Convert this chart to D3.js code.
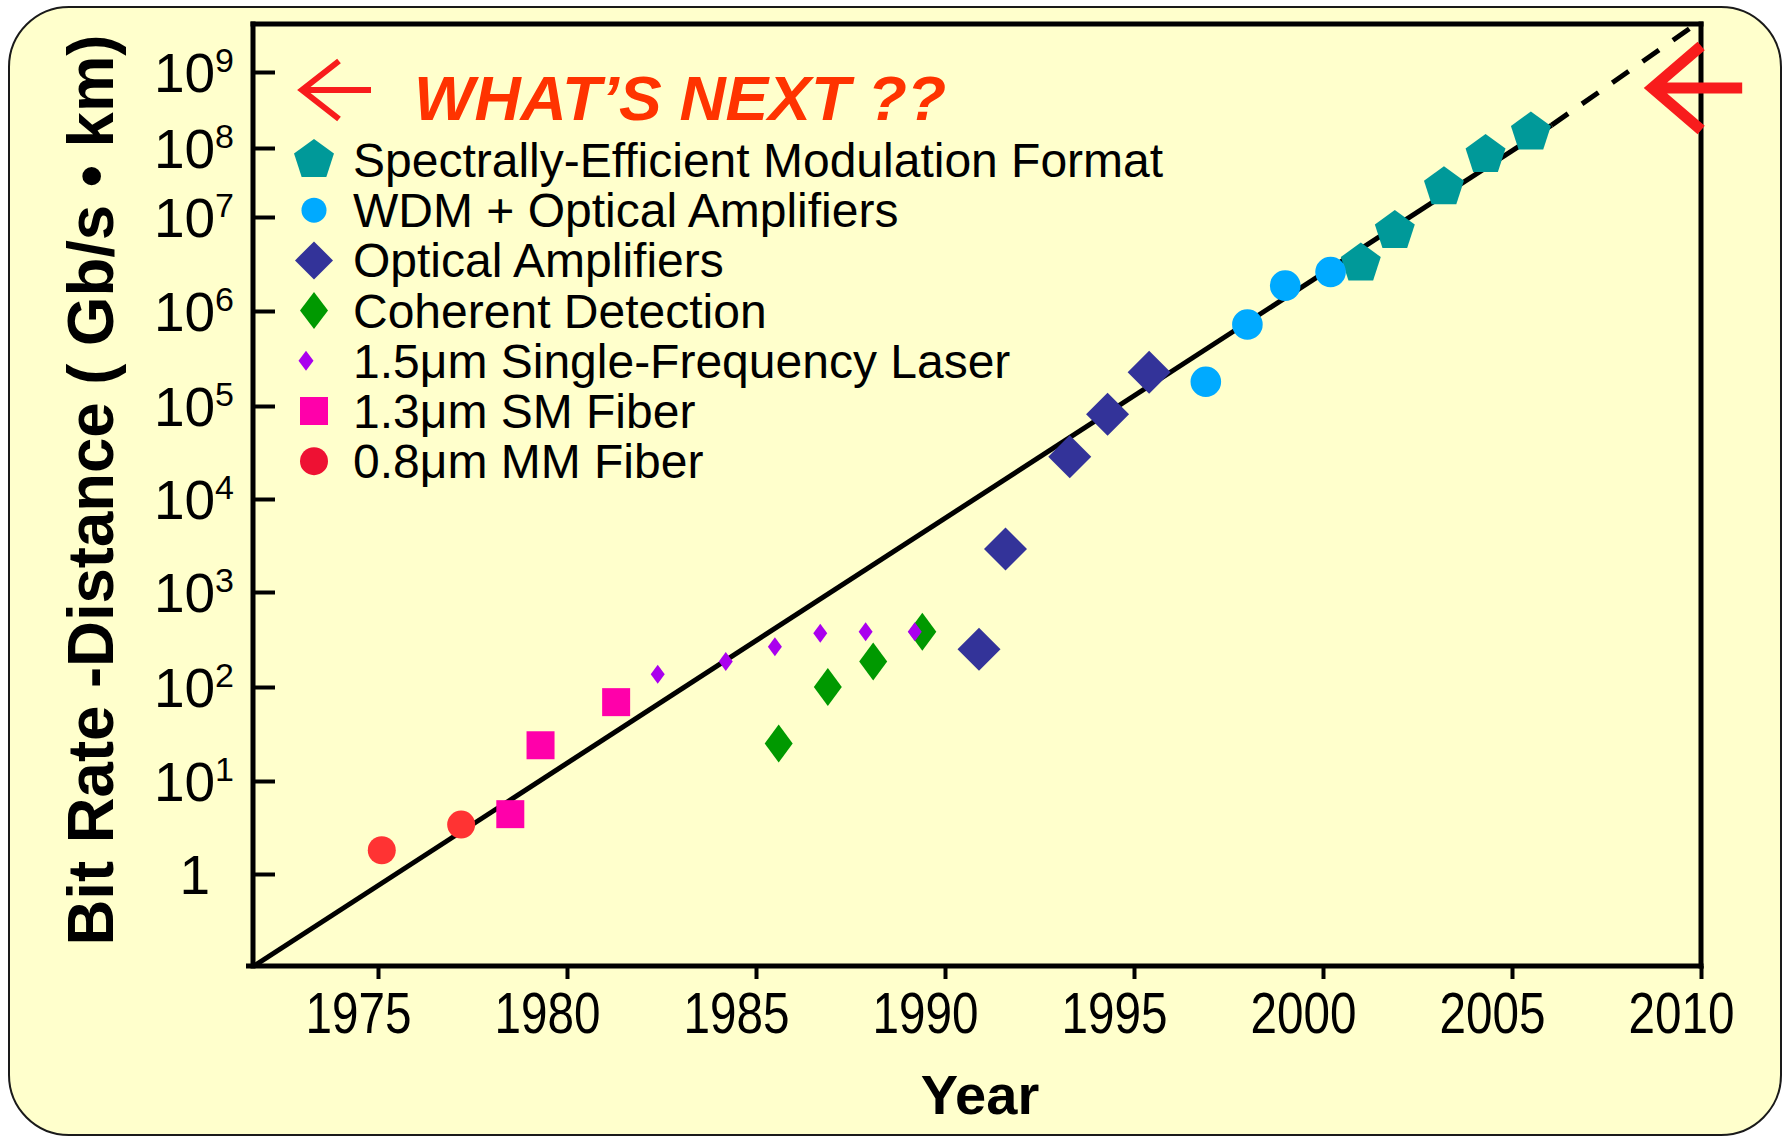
<!DOCTYPE html>
<html>
<head>
<meta charset="utf-8">
<script src="https://cdn.jsdelivr.net/npm/d3@7"></script>
<style>
  body { margin: 0; background: #fff; }
  svg { display: block; }
  text { font-family: "Liberation Sans", Arial, Helvetica, sans-serif; fill: #000; }
</style>
</head>
<body>
<div id="chart"></div>
<script>
// ---- data ----
var xTickYears = [1975, 1980, 1985, 1990, 1995, 2000, 2005, 2010];
var yTickValues = [1, 10, 100, 1e3, 1e4, 1e5, 1e6, 1e7, 1e8, 1e9];

var mmYears = [1975.1, 1977.2];
var mmValues = [1.8, 3.4];
var smYears = [1978.5, 1979.3, 1981.3];
var smValues = [4.4, 24, 69];
var laserYears = [1982.4, 1984.2, 1985.5, 1986.7, 1987.9, 1989.2];
var laserValues = [136, 185, 265, 367, 382, 382];
var cohYears = [1985.6, 1986.9, 1988.1, 1989.4];
var cohValues = [25, 100, 185, 382];
var oaYears = [1990.9, 1991.6, 1993.3, 1994.3, 1995.4];
var oaValues = [250, 2900, 28500, 81500, 226000];
var wdmYears = [1996.9, 1998.0, 1999.0, 2000.2];
var wdmValues = [1.8e5, 7.2e5, 1.86e6, 2.6e6];
var semfYears = [2001.0, 2001.9, 2003.2, 2004.3, 2005.5];
var semfValues = [3.2e6, 7.1e6, 2.7e7, 7.9e7, 1.6e8];

// trend: solid up to the last point, then dashed to the corner
var trendYears = [1971.72, 2006.05, 2009.75];
var trendValues = [0.1, 2.0e8, 3.9e9];

var seriesNames = ["Spectrally-Efficient Modulation Format", "WDM + Optical Amplifiers",
  "Optical Amplifiers", "Coherent Detection", "1.5\u03bcm Single-Frequency Laser",
  "1.3\u03bcm SM Fiber", "0.8\u03bcm MM Fiber"];

// ---- layout ----
var W = 1789, H = 1138;
var plotLeft = 253, plotTop = 24, plotRight = 1701, plotBottom = 966;

var svg = d3.select("#chart").append("svg")
  .attr("width", W).attr("height", H);

svg.append("rect")
  .attr("x", 9).attr("y", 7).attr("width", 1772).attr("height", 1128)
  .attr("rx", 60).attr("ry", 60)
  .attr("fill", "#ffffcc").attr("stroke", "#1a1a1a").attr("stroke-width", 2);

var x = d3.scaleLinear().domain([1975, 2010]).range([378, 1701]);
// log axis, but the top decades on the slide are squeezed, so piecewise
var y = d3.scaleLog()
  .domain([0.1, 1, 10, 100, 1e3, 1e4, 1e5, 1e6, 1e7, 1e8, 1e9, 4.3e9])
  .range([966, 874, 781, 687, 592, 499, 406, 311, 217, 148, 72, 24]);

// series table built from the arrays
var series = [
  {years: semfYears, values: semfValues, shape: "pentagon", a: 21, b: 21, la: 21, lb: 21, color: "#009999"},
  {years: wdmYears, values: wdmValues, shape: "circle", a: 15.3, b: 15.3, la: 12.5, lb: 12.5, color: "#00aaff"},
  {years: oaYears, values: oaValues, shape: "diamond", a: 21.5, b: 21.5, la: 19, lb: 19, color: "#333399"},
  {years: cohYears, values: cohValues, shape: "diamond", a: 14, b: 19, la: 14, lb: 18.5, color: "#009900"},
  {years: laserYears, values: laserValues, shape: "diamond", a: 7, b: 9.5, la: 7.5, lb: 10, color: "#aa00ee", lx: -8},
  {years: smYears, values: smValues, shape: "square", a: 14, b: 14, la: 14, lb: 14, color: "#ff00aa"},
  {years: mmYears, values: mmValues, shape: "circle", a: 14, b: 14, la: 14, lb: 14, color: "#ff3333", legendColor: "#ee1133"}
];
series.forEach(function(s, i) { s.name = seriesNames[i]; });

function shapePath(shape, cx, cy, a, b) {
  var p = d3.path();
  if (shape == "circle") {
    p.moveTo(cx + a, cy);
    p.arc(cx, cy, a, 0, 2 * Math.PI);
  } else if (shape == "square") {
    p.rect(cx - a, cy - b, 2 * a, 2 * b);
  } else if (shape == "diamond") {
    p.moveTo(cx, cy - b); p.lineTo(cx + a, cy); p.lineTo(cx, cy + b); p.lineTo(cx - a, cy);
  } else if (shape == "pentagon") {
    for (var k = 0; k < 5; k++) {
      var ang = (-90 + 72 * k) * Math.PI / 180;
      if (k == 0) p.moveTo(cx + a * Math.cos(ang), cy + a * Math.sin(ang));
      else p.lineTo(cx + a * Math.cos(ang), cy + a * Math.sin(ang));
    }
  }
  p.closePath();
  return p.toString();
}

// ---- axes ----
var xAxis = d3.axisBottom(x).tickValues(xTickYears).tickSize(13).tickFormat(d3.format("d"));
var gx = svg.append("g").attr("transform", "translate(0," + plotBottom + ")").call(xAxis);
gx.select(".domain").remove();
gx.selectAll(".tick line").attr("stroke", "#000").attr("stroke-width", 4);
gx.selectAll(".tick text")
  .attr("y", 67).attr("dy", 0).attr("dx", -20)
  .attr("textLength", 106).attr("lengthAdjust", "spacingAndGlyphs")
  .style("font-size", "57px").attr("fill", "#000");

var yAxis = d3.axisRight(y).tickValues(yTickValues).tickSize(22).tickFormat("");
var gy = svg.append("g").attr("transform", "translate(" + plotLeft + ",0)").call(yAxis);
gy.select(".domain").remove();
gy.selectAll(".tick line").attr("stroke", "#000").attr("stroke-width", 4);

// y tick labels: 1, 10^1 ... 10^9
var ylab = svg.append("g").selectAll("text")
  .data(yTickValues)
  .enter()
  .append("text")
  .attr("x", function(d) { return d == 1 ? 210 : 234; })
  .attr("y", function(d) { return y(d) + 20; })
  .attr("text-anchor", "end")
  .style("font-size", "55px");
ylab.each(function(d) {
  var t = d3.select(this);
  var p = Math.round(Math.log10(d));
  if (p == 0) { t.text("1"); return; }
  t.append("tspan").text("10");
  t.append("tspan").attr("dy", -20).style("font-size", "34px").text(p);
});

// plot frame
var frame = svg.append("g").attr("stroke", "#000").attr("stroke-width", 5).attr("fill", "none");
frame.append("line").attr("x1", plotLeft).attr("x2", plotLeft).attr("y1", plotTop - 2.5).attr("y2", plotBottom + 2.5);
frame.append("line").attr("x1", plotLeft - 2.5).attr("x2", plotRight + 2.5).attr("y1", plotTop).attr("y2", plotTop);
frame.append("line").attr("x1", plotRight).attr("x2", plotRight).attr("y1", plotTop - 2.5).attr("y2", plotBottom + 2.5);
frame.append("line").attr("x1", plotLeft - 7).attr("x2", plotRight + 2.5).attr("y1", plotBottom).attr("y2", plotBottom);

// axis titles
svg.append("text")
  .attr("transform", "translate(113,490) rotate(-90)")
  .attr("text-anchor", "middle")
  .attr("textLength", 911).attr("lengthAdjust", "spacingAndGlyphs")
  .style("font-size", "65px").style("font-weight", "bold")
  .text("Bit Rate -Distance ( Gb/s \u2022 km)");

svg.append("text")
  .attr("x", 980).attr("y", 1114)
  .attr("text-anchor", "middle")
  .style("font-size", "56px").style("font-weight", "bold")
  .text("Year");

// ---- trend line ----
var trend = trendYears.map(function(d, i) { return {year: d, value: trendValues[i]}; });
var line = d3.line().x(function(d) { return x(d.year); }).y(function(d) { return y(d.value); });

svg.append("path").datum(trend.slice(0, 2))
  .attr("d", line).attr("fill", "none").attr("stroke", "#000").attr("stroke-width", 5);
svg.append("path").datum(trend.slice(1, 3))
  .attr("d", line).attr("fill", "none").attr("stroke", "#000").attr("stroke-width", 5)
  .attr("stroke-dasharray", "20,17");

// ---- points ----
series.forEach(function(s) {
  var pts = s.years.map(function(d, i) { return {year: d, value: s.values[i]}; });
  svg.append("g").selectAll("path")
    .data(pts)
    .enter()
    .append("path")
    .attr("d", function(d) { return shapePath(s.shape, x(d.year), y(d.value), s.a, s.b); })
    .attr("fill", s.color);
});

// ---- legend ----
var legend = svg.append("g");
series.forEach(function(s, i) {
  var cy = 160 + i * 50.2;
  legend.append("path")
    .attr("d", shapePath(s.shape, 314 + (s.lx || 0), cy, s.la, s.lb))
    .attr("fill", s.legendColor || s.color);
  legend.append("text")
    .attr("x", 353).attr("y", cy + 17)
    .style("font-size", "48px")
    .text(s.name);
});

// ---- "what's next" notes ----
var red = "#f81c1c";
var lt = {x: 302, y: 90};
svg.append("path")
  .attr("d", "M" + (lt.x + 37) + "," + (lt.y - 29) + "L" + lt.x + "," + lt.y + "L" + (lt.x + 37) + "," + (lt.y + 29) +
    "M" + lt.x + "," + lt.y + "H" + (lt.x + 69))
  .attr("fill", "none").attr("stroke", red).attr("stroke-width", 6);

svg.append("text")
  .attr("x", 414).attr("y", 120)
  .attr("textLength", 532).attr("lengthAdjust", "spacingAndGlyphs")
  .style("font-size", "63px").style("font-weight", "bold").style("font-style", "italic")
  .style("fill", "#ff3300")
  .text("WHAT\u2019S NEXT ??");

var rt = {x: x(2008.55), y: 88};
svg.append("path")
  .attr("d", "M" + (rt.x + 55) + "," + (rt.y - 42) + "L" + (rt.x + 6) + "," + rt.y + "L" + (rt.x + 55) + "," + (rt.y + 42) +
    "M" + (rt.x + 6) + "," + rt.y + "H" + (rt.x + 96))
  .attr("fill", "none").attr("stroke", red).attr("stroke-width", 11);
</script>
</body>
</html>
